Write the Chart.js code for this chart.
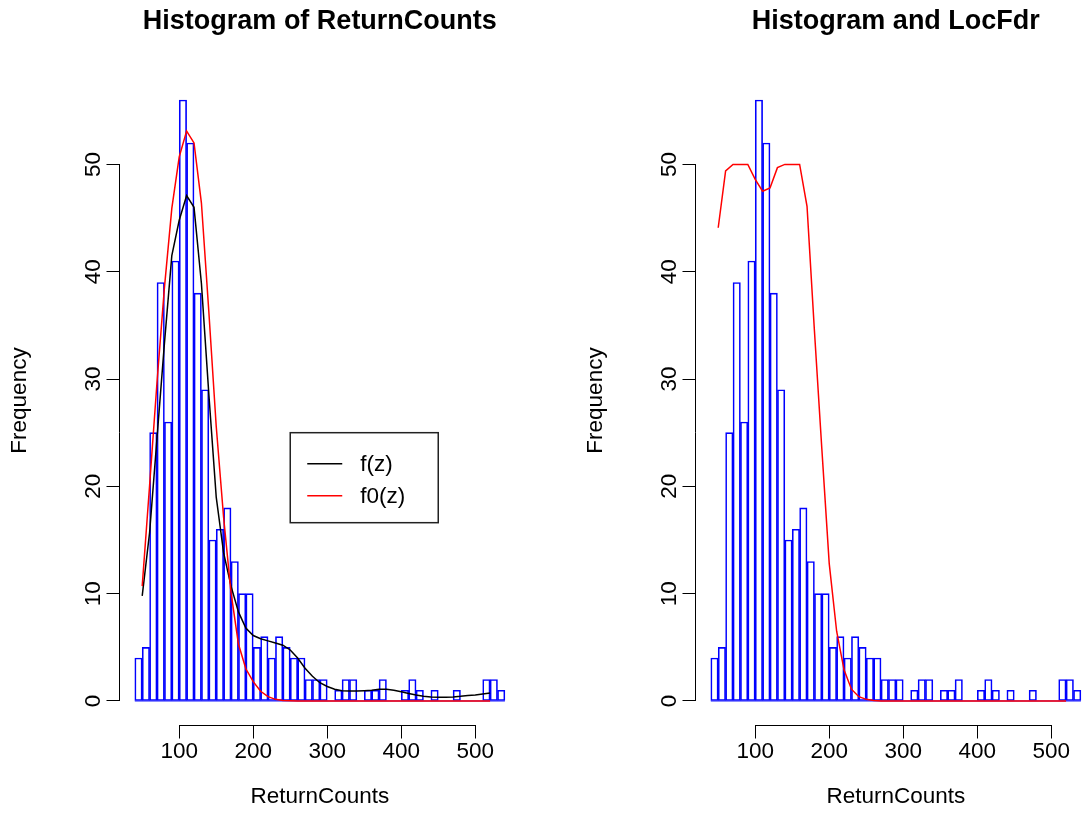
<!DOCTYPE html>
<html>
<head>
<meta charset="utf-8">
<title>ReturnCounts histograms</title>
<script src="https://cdn.jsdelivr.net/npm/chart.js@4.4.1/dist/chart.umd.min.js"></script>
<style>
  html, body { margin: 0; padding: 0; background: #fff; overflow: hidden; width: 1083px; height: 839px; }
  .panel { position: absolute; top: 0; width: 541px; height: 839px; }
  #left { left: 0; }
  #right { left: 576px; }
</style>
</head>
<body>
<div class="panel" id="left"><canvas id="histChart" width="541" height="839"></canvas></div>
<div class="panel" id="right"><canvas id="fdrChart" width="541" height="839"></canvas></div>
<script>
// Histogram of ReturnCounts: bin edges and counts
const breaks = [40, 50, 60, 70, 80, 90, 100, 110, 120, 130, 140, 150, 160, 170, 180, 190,
                200, 210, 220, 230, 240, 250, 260, 270, 280, 290, 300, 310, 320, 330, 340,
                350, 360, 370, 380, 390, 400, 410, 420, 430, 440, 450, 460, 470, 480, 490,
                500, 510, 520, 530, 540];
const counts = [4, 5, 25, 39, 26, 41, 56, 52, 38, 29, 15, 16, 18, 13, 10, 10, 5, 6, 4, 6,
                5, 4, 4, 2, 2, 2, 0, 1, 2, 2, 0, 1, 1, 2, 0, 0, 1, 2, 1, 0,
                1, 0, 0, 1, 0, 0, 0, 2, 2, 1];

// Points where the fitted densities are evaluated
const zGrid = [50, 60, 70, 80, 90, 100, 110, 120, 130, 140, 150, 160, 170, 180, 190, 200,
               210, 220, 230, 240, 250, 260, 270, 280, 290, 300, 310, 320, 330, 340, 350, 360,
               370, 380, 390, 400, 410, 420, 430, 440, 450, 460, 470, 480, 490, 500, 510, 520];
// mixture density f(z), scaled to counts
const fz = [9.8, 15.7, 24.5, 33.3, 41.5, 44.8, 47.1, 46.0, 38.9, 28.6, 19.0, 13.8, 10.7, 8.3, 6.8, 6.1,
            5.8, 5.6, 5.4, 5.2, 4.75, 4.0, 3.05, 2.3, 1.7, 1.35, 1.1, 0.95, 0.93, 0.93, 0.96, 1.0,
            1.08, 1.08, 1.0, 0.85, 0.7, 0.55, 0.45, 0.38, 0.35, 0.35, 0.38, 0.43, 0.5, 0.56, 0.65, 0.75];
// null density f0(z), scaled to counts
const f0z = [10.7, 20.1, 29.7, 38.5, 45.9, 50.7, 53.1, 52.0, 46.4, 36.3, 25.6, 17.1, 10.1, 5.3, 3.0, 1.8,
             0.9, 0.4, 0.15, 0.05, 0.02, 0, 0, 0, 0, 0, 0, 0, 0, 0, 0, 0,
             0, 0, 0, 0, 0, 0, 0, 0, 0, 0, 0, 0, 0, 0, 0, 0];
// local fdr times 50
const fdrScaled = [44.1, 49.4, 50, 50, 50, 48.6, 47.5, 47.8, 49.7, 50, 50, 50, 46.1, 34.5, 23.5, 12.8,
                   6.5, 2.9, 1.1, 0.4, 0.15, 0.05, 0, 0, 0, 0, 0, 0, 0, 0, 0, 0,
                   0, 0, 0, 0, 0, 0, 0, 0, 0, 0, 0, 0, 0, 0, 0, 0];

const xTicks = [100, 200, 300, 400, 500];
const yTicks = [0, 10, 20, 30, 40, 50];

const BASE = 22.5;
Chart.defaults.font.family = "'Liberation Sans', Arial, Helvetica, sans-serif";
Chart.defaults.font.size = BASE;
Chart.defaults.color = '#000';

// axis ranges padded by 4% like R
const xSpan = breaks[breaks.length - 1] - breaks[0];
const xMin = breaks[0] - 0.04 * xSpan;
const xMax = breaks[breaks.length - 1] + 0.04 * xSpan;
const yTop = Math.max(...counts);
const yMin = -0.04 * yTop;
const yMax = yTop * 1.04;

function histPoints() {
    return counts.map((c, i) => ({ x: (breaks[i] + breaks[i + 1]) / 2, y: c }));
}

function curve(values) {
    return zGrid.map((z, i) => ({ x: z, y: values[i] }));
}

// axis lines only span first..last tick
const axisLines = {
    id: 'axisLines',
    afterDraw(chart) {
        const { ctx, chartArea, scales: { x, y } } = chart;
        ctx.save();
        ctx.strokeStyle = '#000';
        ctx.lineWidth = 1;
        ctx.beginPath();
        const yb = Math.round(chartArea.bottom) + 0.5;
        ctx.moveTo(x.getPixelForValue(xTicks[0]), yb);
        ctx.lineTo(x.getPixelForValue(xTicks[xTicks.length - 1]), yb);
        const xl = Math.round(chartArea.left) - 0.5;
        ctx.moveTo(xl, y.getPixelForValue(yTicks[0]));
        ctx.lineTo(xl, y.getPixelForValue(yTicks[yTicks.length - 1]));
        ctx.stroke();
        ctx.restore();
    }
};

// boxed legend anchored at a data coordinate (top-left corner)
const boxLegend = {
    id: 'boxLegend',
    afterDraw(chart, args, opts) {
        if (!opts.at) return;
        const { ctx, scales: { x, y } } = chart;
        const items = chart.data.datasets.filter(d => d.inLegend);
        const left = x.getPixelForValue(opts.at.x);
        const top = y.getPixelForValue(opts.at.y);
        const rowH = 32;
        const w = 148;
        const h = items.length * rowH + 26;
        ctx.save();
        ctx.strokeStyle = '#222';
        ctx.lineWidth = 1.5;
        ctx.strokeRect(left, top, w, h);
        ctx.font = BASE + "px 'Liberation Sans', Arial, sans-serif";
        ctx.textBaseline = 'middle';
        ctx.fillStyle = '#000';
        items.forEach((d, i) => {
            const cy = top + 31 + i * rowH;
            ctx.beginPath();
            ctx.strokeStyle = d.borderColor;
            ctx.lineWidth = d.borderWidth;
            ctx.moveTo(left + 17, cy);
            ctx.lineTo(left + 52, cy);
            ctx.stroke();
            ctx.fillText(d.label, left + 70, cy + 1);
        });
        ctx.restore();
    }
};

function barDataset() {
    return {
        type: 'bar',
        label: 'ReturnCounts',
        data: histPoints(),
        backgroundColor: 'rgba(0,0,0,0)',
        borderColor: '#0000FF',
        borderWidth: 1,
        borderSkipped: false,
        barPercentage: 1,
        categoryPercentage: 1,
        grouped: false,
        order: 4
    };
}

function baselineDataset() {
    return {
        type: 'line',
        label: 'base',
        data: [{ x: breaks[0], y: 0 }, { x: breaks[breaks.length - 1], y: 0 }],
        borderColor: '#0000FF',
        borderWidth: 1,
        pointRadius: 0,
        order: 3
    };
}

function lineDataset(label, values, color, order) {
    return {
        type: 'line',
        label: label,
        data: curve(values),
        borderColor: color,
        borderWidth: 1.5,
        pointRadius: 0,
        tension: 0,
        inLegend: true,
        order: order
    };
}

function makeOptions(titleText, legendAt) {
    return {
        responsive: false,
        animation: false,
        events: [],
        layout: { padding: { left: 0, right: 21.3, top: 0, bottom: 0 } },
        plugins: {
            legend: { display: false },
            tooltip: { enabled: false },
            title: {
                display: true,
                text: titleText,
                fullSize: false,
                font: { size: 27, weight: 'bold' },
                padding: { top: 5.3, bottom: 38.3 }
            },
            boxLegend: { at: legendAt }
        },
        scales: {
            x: {
                type: 'linear',
                min: xMin,
                max: xMax,
                offset: false,
                afterBuildTicks: s => { s.ticks = xTicks.map(v => ({ value: v })); },
                afterFit: s => { s.height = 114; },
                grid: { offset: false, drawOnChartArea: false, drawTicks: true, tickLength: 13.5, color: '#000', lineWidth: 1 },
                border: { display: false },
                ticks: { padding: 0, maxRotation: 0, autoSkip: false },
                title: { display: true, text: 'ReturnCounts', padding: { top: 0, bottom: 28.5 } }
            },
            y: {
                type: 'linear',
                min: yMin,
                max: yMax,
                afterBuildTicks: s => { s.ticks = yTicks.map(v => ({ value: v })); },
                afterFit: s => { s.width = 120; },
                grid: { drawOnChartArea: false, drawTicks: true, tickLength: 13.5, color: '#000', lineWidth: 1 },
                border: { display: false },
                ticks: { minRotation: 90, maxRotation: 90, crossAlign: 'center', padding: 0, autoSkip: false },
                title: { display: true, text: 'Frequency', padding: { top: 6.5, bottom: 0 } }
            }
        }
    };
}

new Chart(document.getElementById('histChart'), {
    type: 'bar',
    data: {
        datasets: [
            barDataset(),
            baselineDataset(),
            lineDataset('f(z)', fz, '#000000', 2),
            lineDataset('f0(z)', f0z, '#FF0000', 1)
        ]
    },
    options: makeOptions('Histogram of ReturnCounts', { x: 250, y: 25 }),
    plugins: [axisLines, boxLegend]
});

new Chart(document.getElementById('fdrChart'), {
    type: 'bar',
    data: {
        datasets: [
            barDataset(),
            baselineDataset(),
            Object.assign(lineDataset('fdr', fdrScaled, '#FF0000', 1), { inLegend: false })
        ]
    },
    options: makeOptions('Histogram and LocFdr', null),
    plugins: [axisLines, boxLegend]
});
</script>
</body>
</html>
